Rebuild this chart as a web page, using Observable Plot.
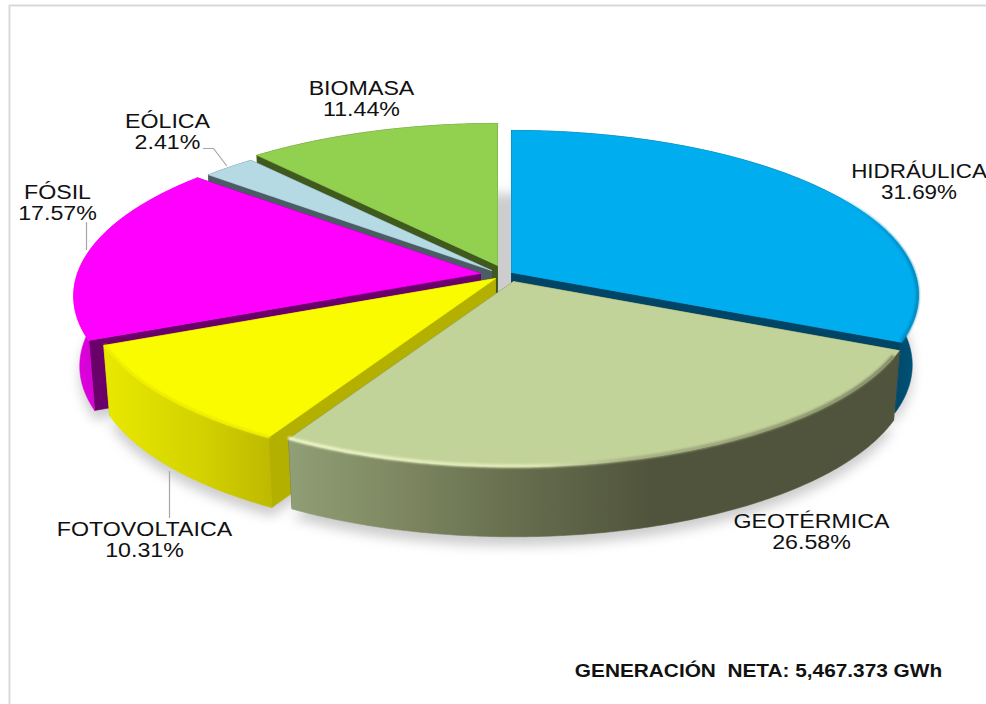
<!DOCTYPE html>
<html>
<head>
<meta charset="utf-8">
<style>
html,body{margin:0;padding:0;background:#fff;overflow:hidden}
svg{display:block}
</style>
<script src="https://cdn.jsdelivr.net/npm/d3@7"></script>
<script src="https://cdn.jsdelivr.net/npm/@observablehq/plot@0.6"></script>
</head>
<body>
<div id="chart"></div>
<script>
// Data
const categories = ["HIDRÁULICA","GEOTÉRMICA","FOTOVOLTAICA","FÓSIL","EÓLICA","BIOMASA"];
const shares = [31.69,26.58,10.31,17.57,2.41,11.44];
const footer = "GENERACIÓN  NETA: 5,467.373 GWh";

// Styles
const topColors = ["#00adef","#c2d39a","#fbfb00","#ff00ff","#b5dae4","#92d050"];
const wallColors = ["#004565","#50543c","#b3b000","#6a006a","#4a5c64","#3f5a1c"];
const rimColors = ["url(#rimH)","url(#rimG)","url(#rimF)","#d900d9","#4a5c64","#3f5a1c"];

// Layout of the exploded, tilted pie (in picture units)
const apexX = [511,513,495,480,491,497];
const apexY = [272,281,278,273,270,265];
const radiusK = [1,0.99,1,1,1,1];
const labelX = [918.5,811,144,57,167,361];
const labelY = [181,531,539,202,131,98];
const labelStretch = [1.15,1.19,1.19,1.19,1.19,1.19];
const RX = 403, RY = 161.5, P = 0.137, DEPTH = 70, FOOT = 0.985;
const paintOrder = [5,4,3,0,2,1];

const cum = d3.cumsum(shares);
const total = cum[cum.length-1];
const startA = i => (i ? cum[i-1] : 0) / total * 2 * Math.PI;
const endA = i => cum[i] / total * 2 * Math.PI;

function project(i, a, dz = 0, k = 1, ax = apexX[i], ay = apexY[i]) {
  const u = Math.sin(a), v = -Math.cos(a), s = 1 / (1 - P * v);
  const f = dz >= DEPTH ? FOOT : 1;
  return {x: ax + RX * radiusK[i] * k * f * u * s, y: ay + RY * radiusK[i] * k * v * s + dz};
}
function arc(i, a0, a1, dz = 0, k = 1, ax, ay) {
  const n = Math.max(2, Math.ceil(Math.abs(a1 - a0) / 0.01));
  return d3.range(n + 1).map(j => project(i, a0 + (a1 - a0) * j / n, dz, k, ax, ay));
}
const closed = pts => pts.concat([pts[0]]);
const facePts = (i, dz = 0) => closed([{x: apexX[i], y: apexY[i] + dz}, ...arc(i, startA(i), endA(i), dz)]);
const rimPts = i => closed([...arc(i, startA(i), endA(i)), ...arc(i, endA(i), startA(i), DEPTH)]);
const wallPts = (i, a) => {
  const e = project(i, a), b = project(i, a, DEPTH);
  return closed([{x: apexX[i], y: apexY[i]}, e, b, {x: apexX[i], y: apexY[i] + DEPTH}]);
};
const poly = (pts, color, extra = {}) =>
  Plot.line(pts, {x: "x", y: "y", fill: color, stroke: color, strokeWidth: 0.6, strokeLinejoin: "round", ...extra});

// Shadow
const shadowData = [
  ...arc(0, 0, 2 * Math.PI, 60, 1, 504, 275).map(p => ({...p, id: "all"})),
  ...categories.flatMap((c, i) => facePts(i, DEPTH + 9).map(p => ({...p, id: c})))
];

const marks = [
  Plot.line([{x:9,y:704},{x:9,y:5},{x:986,y:5}], {x:"x", y:"y", stroke:"#d9d9d9", strokeWidth:2}),
  Plot.line(shadowData, {x:"x", y:"y", z:"id", fill:"#cdcdcd", stroke:"none", imageFilter:"blur(6px)"})
];

for (const i of paintOrder) {
  marks.push(
    poly(wallPts(i, startA(i)), wallColors[i]),
    poly(wallPts(i, endA(i)), wallColors[i]),
    poly(rimPts(i), rimColors[i]),
    poly(facePts(i), topColors[i])
  );
  if (i === 0) {
    // soft darker bevel on the far right edge
    marks.push(Plot.line(arc(0, 0.8, endA(0) - 0.01, 0, 0.998), {x:"x", y:"y", stroke:"url(#bevH)", strokeWidth:3, imageFilter:"blur(1px)"}));
  }
  if (i === 1) {
    marks.push(Plot.line(arc(1, startA(1) + 0.04, endA(1), 0, 0.996), {x:"x", y:"y", stroke:"url(#bevG)", strokeWidth:3.5, imageFilter:"blur(1.2px)"}));
  }
  if (i === 2) {
    marks.push(Plot.line(arc(2, startA(2), endA(2), 0, 0.996), {x:"x", y:"y", stroke:"#e6e600", strokeWidth:2, imageFilter:"blur(1px)"}));
  }
}

marks.push(
  Plot.line([{x:203,y:148},{x:213,y:148},{x:226,y:165}], {x:"x", y:"y", stroke:"#a6a6a6", strokeWidth:1.2}),
  Plot.line([{x:86,y:222},{x:86,y:249}], {x:"x", y:"y", stroke:"#a6a6a6", strokeWidth:1.2}),
  Plot.line([{x:169,y:471},{x:169,y:517}], {x:"x", y:"y", stroke:"#a6a6a6", strokeWidth:1.2}),
  Plot.text(categories.map((c, i) => ({c, s: shares[i].toFixed(2) + "%", x: labelX[i], y: labelY[i]})), {
    x: "x", y: "y", text: d => d.c + "\n" + d.s,
    fontFamily: "Liberation Sans, Arial, sans-serif", fontSize: 19.5, lineHeight: 1.12,
    fill: "#111", textAnchor: "middle", frameAnchor: "middle"
  }),
  Plot.text([footer], {
    x: () => 758, y: () => 671, text: d => d,
    fontFamily: "Liberation Sans, Arial, sans-serif", fontSize: 17.5, fontWeight: "bold",
    fill: "#111", textAnchor: "middle"
  })
);

const chart = Plot.plot({
  width: 986, height: 704, margin: 0,
  style: {background: "transparent", overflow: "hidden"},
  x: {domain: [0, 986], range: [0, 986], axis: null},
  y: {domain: [0, 704], range: [0, 704], axis: null},
  marks
});

// Gradients
const defs = d3.select(chart).insert("defs", ":first-child");
function grad(id, x1, x2, stops) {
  const g = defs.append("linearGradient").attr("id", id).attr("gradientUnits", "userSpaceOnUse")
    .attr("x1", x1).attr("x2", x2).attr("y1", 0).attr("y2", 0);
  for (const [o, c, op] of stops) g.append("stop").attr("offset", o).attr("stop-color", c).attr("stop-opacity", op ?? 1);
}
grad("rimH", 880, 920, [[0, "#00405f"], [1, "#00567c"]]);
grad("rimG", 288, 650, [[0, "#909f75"], [0.32, "#7d8660"], [0.6, "#687050"], [1, "#50543c"]]);
grad("rimF", 105, 275, [[0, "#e8e800"], [0.55, "#d4d200"], [1, "#bdb800"]]);
grad("bevG", 290, 900, [[0, "#eef5c8"], [0.4, "#dfe9b6"], [0.55, "#a8b185"], [1, "#7f8663"]]);
grad("bevH", 830, 915, [[0, "#00adef", 0], [0.6, "#009ad6"], [1, "#0088bb"]]);

// The reference's text is stretched sideways
d3.select(chart).selectAll("text").each(function () {
  const t = this.getAttribute("transform") || "";
  const i = categories.findIndex(c => this.textContent.startsWith(c));
  this.setAttribute("transform", t + ` scale(${i < 0 ? 1.19 : labelStretch[i]},1)`);
});

document.getElementById("chart").append(chart);
</script>
</body>
</html>
